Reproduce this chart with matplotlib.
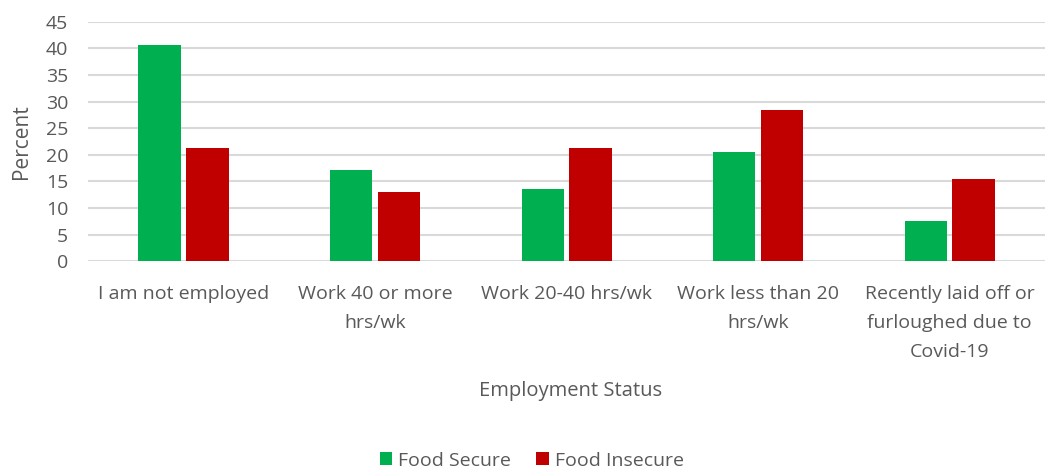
import matplotlib
matplotlib.use("Agg")
import matplotlib.pyplot as plt
import numpy as np

categories = ["I am not employed", "Work 40 or more\nhrs/wk", "Work 20-40 hrs/wk",
              "Work less than 20\nhrs/wk", "Recently laid off or\nfurloughed due to\nCovid-19"]
food_secure = [40.6, 17.1, 13.5, 20.5, 7.6]
food_insecure = [21.2, 13.0, 21.3, 28.5, 15.4]
yticks = list(range(0, 50, 5))

plt.rcParams['font.family'] = ['Open Sans', 'DejaVu Sans']
text_color = "#595959"

fig = plt.figure(figsize=(10.57, 4.74), dpi=100)
ax = fig.add_axes([0.083, 0.449, 0.906, 0.505])

x = np.arange(len(categories))
w = 0.22
gap = 0.03
ax.bar(x - (w + gap) / 2, food_secure, width=w, color="#00B050", label="Food Secure", zorder=3)
ax.bar(x + (w + gap) / 2, food_insecure, width=w, color="#C00000", label="Food Insecure", zorder=3)

ax.set_xlim(-0.5, len(categories) - 0.5)
ax.set_ylim(0, 45)
ax.set_yticks(yticks)
ax.set_xticks(x)
ax.set_xticklabels(categories, fontsize=14, color=text_color, linespacing=1.78)
ax.tick_params(axis='y', labelsize=14, colors=text_color, length=0, pad=14)
ax.tick_params(axis='x', length=0, pad=17)
ax.grid(axis='y', color="#D9D9D9", linewidth=1.5, zorder=0)
for s in ax.spines.values():
    s.set_visible(False)

ax.set_ylabel("Percent", fontsize=15, color=text_color, labelpad=10)
fig.text(0.54, 0.176, "Employment Status", ha='center', va='center', fontsize=14.5, color=text_color)

fig.legend(loc='center', bbox_to_anchor=(0.503, 0.028), ncol=2, frameon=False,
           fontsize=14, labelcolor=text_color, handlelength=0.65, handleheight=0.65,
           handletextpad=0.3, columnspacing=1.3)

fig.savefig("out.png", dpi=100)
